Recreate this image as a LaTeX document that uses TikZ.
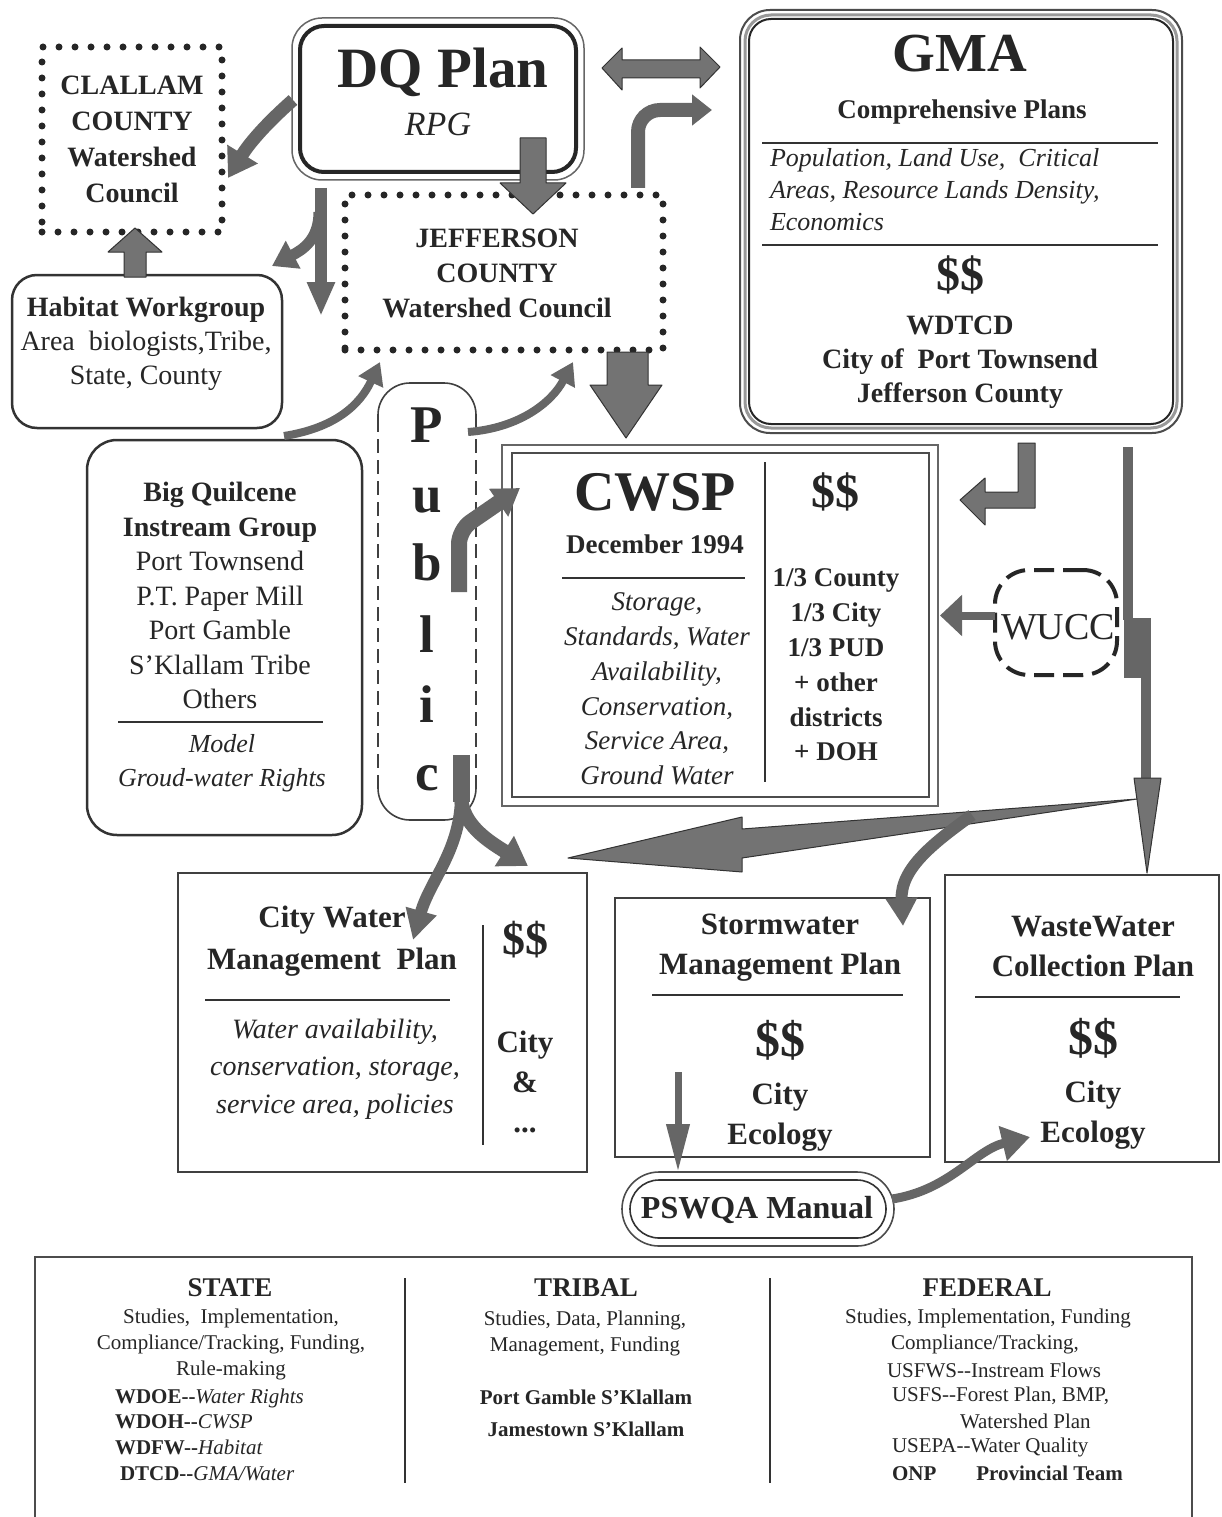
\documentclass[tikz,border=0pt]{standalone}
\usepackage{fontspec}
\setmainfont{Liberation Serif}
\usetikzlibrary{arrows.meta,calc}
\newcommand\fsz[2]{\fontsize{#1}{#2}\selectfont}
\begin{document}
\begin{tikzpicture}[x=1pt,y=-1pt,
  every node/.style={inner sep=0pt, outer sep=0pt},
  tx/.style={text=black!85},
  dotbox/.style={draw=black!85, line width=7pt, line cap=round, dash pattern=on 0pt off 16pt},
  rbox/.style={draw=black!80, line width=2.5pt, rounded corners=25pt},
  pbox/.style={draw=black!75, line width=2pt},
  rule/.style={draw=black!80, line width=2pt},
  barrow/.style={fill=black!55, draw=black!80, line width=1pt, line join=round},
  carrow/.style={draw=black!60, line width=#1},
  pubsolid/.style={draw=black!75, line width=1.6pt},
  pubdash/.style={draw=black!75, line width=1.6pt, dash pattern=on 14pt off 7pt},
]
\useasboundingbox (0,0) rectangle (1221,1517);
\fill[white] (0,0) rectangle (1221,1517);

% ---------- CLALLAM ----------
\node[dotbox, tx, minimum width=180pt, minimum height=185pt, font=\bfseries\fsz{28}{36}, align=center] (clallam) at (132,139.5) {CLALLAM\\COUNTY\\Watershed\\Council};

% ---------- DQ Plan ----------
\node[draw=black!60, line width=1.5pt, rounded corners=30pt, minimum width=292pt, minimum height=162pt] (dqouter) at (438,99) {};
\node[draw=black!85, line width=4pt, rounded corners=24pt, minimum width=276pt, minimum height=146pt] (dq) at (438,99) {};
\node[tx, font=\bfseries\fsz{57}{60}, anchor=base] (dqt) at (443,88) {DQ Plan};
\node[tx, font=\itshape\fsz{34}{36}, anchor=base] (rpg) at (438,136) {RPG};

% ---------- GMA ----------
\node[draw=black!70, line width=2pt, rounded corners=30pt, minimum width=442pt, minimum height=423pt] (gmaouter) at (961,221.5) {};
\node[draw=black!40, line width=3pt, rounded corners=26pt, minimum width=432pt, minimum height=413pt] (gmamid) at (961,221.5) {};
\node[draw=black!85, line width=2pt, rounded corners=22pt, minimum width=424pt, minimum height=405pt] (gma) at (961,221.5) {};
\node[tx, font=\bfseries\fsz{55}{60}, anchor=base] (gmat) at (960,72) {GMA};
\node[tx, font=\bfseries\fsz{27}{32}, anchor=base] (comp) at (962,119) {Comprehensive Plans};
\draw[rule] (762,143) -- (1158,143);
\node[tx, font=\itshape\fsz{26}{32}, align=left, anchor=north west] (gmai) at (770,148) {Population, Land Use,\ \ Critical\\Areas, Resource Lands Density,\\Economics};
\draw[rule] (762,245) -- (1158,245);
\node[tx, font=\bfseries\fsz{48}{50}, anchor=base] (gmad) at (960,290) {\$\$};
\node[tx, font=\bfseries\fsz{28}{34}, align=center] (gmab) at (960,362) {WDTCD\\City of\ \ Port Townsend\\Jefferson County};

% ---------- Jefferson ----------
\node[dotbox, minimum width=318pt, minimum height=155pt] (jeff) at (504,272.5) {};
\node[tx, font=\bfseries\fsz{28}{35}, align=center] (jefft) at (497,273) {JEFFERSON\\COUNTY\\Watershed Council};

% ---------- Habitat ----------
\node[rbox, minimum width=270pt, minimum height=153pt] (hab) at (147,351.5) {};
\node[tx, font=\fsz{28}{34}, align=center] (habt) at (146,344) {\textbf{Habitat Workgroup}\\Area\ \ biologists,Tribe,\\State, County};

% ---------- Big Quilcene ----------
\node[rbox, rounded corners=30pt, minimum width=275pt, minimum height=395pt] (bq) at (224.5,637.5) {};
\node[tx, font=\fsz{28}{34.5}, align=center] (bqt) at (220,595.5) {\textbf{Big Quilcene}\\\textbf{Instream Group}\\Port Townsend\\P.T. Paper Mill\\Port Gamble\\S'Klallam Tribe\\Others};
\draw[rule] (118,722) -- (323,722);
\node[tx, font=\itshape\fsz{26}{34}, align=center] (bqi) at (222,763) {Model\\Groud-water Rights};

% ---------- Public ----------
\node[minimum width=98pt, minimum height=437pt] (pub) at (427,601.5) {};
\draw[pubsolid, rounded corners=32pt] (378,418) -- (pub.north west) -- (pub.north east) -- (476,418);
\draw[pubsolid, rounded corners=32pt] (378,785) -- (pub.south west) -- (pub.south east) -- (476,785);
\draw[pubdash] (378,418) -- (378,785);
\draw[pubdash] (476,418) -- (476,785);
\foreach \ch/\yy [count=\i] in {P/442,u/512,b/580,l/652,i/722,c/790}
  \node[tx, font=\bfseries\fsz{53}{56}, anchor=base] (pl\i) at (427,\yy) {\ch};

% ---------- CWSP ----------
\node[draw=black!60, line width=2pt, minimum width=436pt, minimum height=361pt] (cwspo) at (720,625.5) {};
\node[draw=black!70, line width=2pt, minimum width=417pt, minimum height=344pt] (cwsp) at (720.5,625) {};
\draw[rule] (765,462) -- (765,782);
\node[tx, font=\bfseries\fsz{56}{60}, anchor=base] (cwspt) at (655,510) {CWSP};
\node[tx, font=\bfseries\fsz{27}{30}, anchor=base] (dec) at (655,553) {December 1994};
\draw[rule] (562,578) -- (745,578);
\node[tx, font=\itshape\fsz{27}{34.8}, align=center] (cwspi) at (657,689) {Storage,\\Standards, Water\\Availability,\\Conservation,\\Service Area,\\Ground Water};
\node[tx, font=\bfseries\fsz{48}{50}, anchor=base] (cwspd) at (835,507) {\$\$};
\node[tx, font=\bfseries\fsz{27}{34.8}, align=center] (cwspr) at (836,665) {1/3 County\\1/3 City\\1/3 PUD\\+ other\\districts\\+ DOH};

% ---------- WUCC ----------
\node[draw=black!85, line width=4pt, dash pattern=on 20pt off 9pt, rounded corners=34pt, minimum width=122pt, minimum height=105pt] (wucc) at (1056,622.5) {};
\node[tx, font=\fsz{38}{40}, anchor=base] (wucct) at (1058,639) {WUCC};

% ---------- City Water ----------
\node[pbox, minimum width=409pt, minimum height=299pt] (city) at (382.5,1022.5) {};
\draw[rule] (483,925) -- (483,1145);
\node[tx, font=\bfseries\fsz{31}{42}, align=center] (cityt) at (332,941) {City Water\\Management\ \ Plan};
\draw[rule] (205,1000) -- (450,1000);
\node[tx, font=\itshape\fsz{28}{37.5}, align=center] (cityi) at (335,1069) {Water availability,\\conservation, storage,\\service area, policies};
\node[tx, font=\bfseries\fsz{46}{50}] (cityd) at (525,940) {\$\$};
\node[tx, font=\bfseries\fsz{31}{40}, align=center] (cityr) at (525,1062) {City\\\&};
\node[tx, font=\bfseries\fsz{31}{34}] (citydots) at (525,1130) {...};

% ---------- Stormwater ----------
\node[pbox, minimum width=315pt, minimum height=259pt] (storm) at (772.5,1027.5) {};
\node[tx, font=\bfseries\fsz{31}{40}, align=center] (stormt) at (780,948) {Stormwater\\Management Plan};
\draw[rule] (652,995) -- (903,995);
\node[tx, font=\bfseries\fsz{50}{52}] (stormd) at (780,1040) {\$\$};
\node[tx, font=\bfseries\fsz{31}{40}, align=center] (stormr) at (780,1117) {City\\Ecology};

% ---------- WasteWater ----------
\node[pbox, minimum width=274pt, minimum height=287pt] (waste) at (1082,1018.5) {};
\node[tx, font=\bfseries\fsz{31}{40}, align=center] (wastet) at (1093,946) {WasteWater\\Collection Plan};
\draw[rule] (975,997) -- (1180,997);
\node[tx, font=\bfseries\fsz{50}{52}] (wasted) at (1093,1038) {\$\$};
\node[tx, font=\bfseries\fsz{31}{40}, align=center] (waster) at (1093,1115) {City\\Ecology};

% ---------- PSWQA ----------
\node[draw=black!70, line width=1.6pt, rounded corners=37pt, minimum width=272pt, minimum height=74pt] (pswqao) at (758,1209) {};
\node[draw=black!80, line width=1.6pt, rounded corners=29pt, minimum width=256pt, minimum height=58pt] (pswqa) at (758,1209) {};
\node[tx, font=\bfseries\fsz{32}{34}] (pswqat) at (757,1210) {PSWQA Manual};

% ---------- Bottom panel ----------
\coordinate (panelTL) at (35,1257);
\coordinate (panelTR) at (1192,1257);
\draw[draw=black!70, line width=2.5pt] (35,1530) -- (panelTL) -- (panelTR) -- (1192,1530);
\draw[rule] (405,1278) -- (405,1483);
\draw[rule] (770,1278) -- (770,1483);
\node[tx, font=\bfseries\fsz{27}{30}, anchor=base] (state) at (230,1296) {STATE};
\node[tx, font=\fsz{21}{26}, align=center] (statea) at (231,1344) {Studies,\ \ Implementation,\\Compliance/Tracking, Funding,\\Rule-making};
\node[tx, font=\fsz{21}{25.7}, align=left, anchor=west] (stateb) at (115,1434.5) {\textbf{WDOE-{}-}\textit{Water Rights}\\\textbf{WDOH-{}-}\textit{CWSP}\\\textbf{WDFW-{}-}\textit{Habitat}\\\hspace{5pt}\textbf{DTCD-{}-}\textit{GMA/Water}};
\node[tx, font=\bfseries\fsz{27}{30}, anchor=base] (tribal) at (586,1296) {TRIBAL};
\node[tx, font=\fsz{21}{26}, align=center] (tribala) at (585,1333) {Studies, Data, Planning,\\Management, Funding};
\node[tx, font=\bfseries\fsz{21}{26}] (tribalb) at (586,1397) {Port Gamble S'Klallam};
\node[tx, font=\bfseries\fsz{21}{26}] (tribalc) at (586,1429) {Jamestown S'Klallam};
\node[tx, font=\bfseries\fsz{27}{30}, anchor=base] (federal) at (987,1296) {FEDERAL};
\node[tx, font=\fsz{21}{26}] (fed1) at (988,1318) {Studies, Implementation, Funding};
\node[tx, font=\fsz{21}{26}] (fed2) at (985,1344) {Compliance/Tracking,};
\node[tx, font=\fsz{21}{26}, anchor=west] (fed3) at (887,1370) {USFWS-{}-Instream Flows};
\node[tx, font=\fsz{21}{26}, anchor=west] (fed4) at (892,1396) {USFS-{}-Forest Plan, BMP,};
\node[tx, font=\fsz{21}{26}, anchor=west] (fed5) at (960,1421) {Watershed Plan};
\node[tx, font=\fsz{21}{26}, anchor=west] (fed6) at (892,1447) {USEPA-{}-Water Quality};
\node[tx, font=\bfseries\fsz{21}{26}, anchor=west] (fed7) at (892,1473) {ONP\hspace{40pt}Provincial Team};

% ---------- Arrows ----------
% DQ <-> GMA
\filldraw[barrow] (602,68) -- (622,48) -- (622,60) -- (700,60) -- (700,47) -- (720,67) -- (700,88) -- (700,78) -- (622,78) -- (622,90) -- cycle;
% Jefferson -> GMA (bent)
\draw[carrow=14pt, -{Triangle[width=30pt,length=20pt]}, rounded corners=22pt] (638,188) -- (638,110) -- (712,110);
% DQ -> Jefferson
\filldraw[barrow] (520,138) -- (546,138) -- (546,183) -- (566,183) -- (533,214) -- (500,183) -- (520,183) -- cycle;
% DQ -> Clallam
\draw[carrow=13pt, -{Triangle[width=34pt,length=28pt]}] (293,100) .. controls (268,122) and (250,142) .. (228,178);
% split arrow below DQ
\draw[carrow=12pt, -{Triangle[width=26pt,length=34pt]}] (321,188) -- (321,316);
\draw[carrow=11pt, -{Triangle[width=30pt,length=24pt]}] (319,212) .. controls (319,240) and (302,250) .. (272,266);
% Habitat -> Clallam
\filldraw[barrow] (124,277) -- (124,252) -- (108,252) -- (135,228) -- (162,252) -- (146,252) -- (146,277) -- cycle;
% Big Quilcene -> Jefferson
\draw[carrow=8pt, -{Triangle[width=26pt,length=22pt]}] (284,436) .. controls (335,428) and (360,405) .. (380,362);
% Public -> Jefferson
\draw[carrow=8pt, -{Triangle[width=26pt,length=22pt]}] (468,432) .. controls (520,428) and (552,402) .. (573,362);
% Jefferson -> CWSP
\filldraw[barrow] (607,352) -- (648,352) -- (648,385) -- (662,385) -- (626,438) -- (590,385) -- (607,385) -- cycle;
% Public -> CWSP
\draw[carrow=16pt, -{Triangle[width=32pt,length=26pt]}, rounded corners=14pt] (459,592) -- (459,530) -- (520,488);
% GMA -> CWSP (elbow)
\filldraw[barrow] (1018,443) -- (1035,443) -- (1035,508) -- (985,508) -- (985,525) -- (960,500) -- (985,478) -- (985,492) -- (1018,492) -- cycle;
% GMA -> WasteWater long connector
\fill[black!60] (1123,447) rectangle (1133,620);
\fill[black!60] (1124,618) rectangle (1151,678);
\fill[black!60] (1141,676) rectangle (1151,780);
\filldraw[barrow] (1134,778) -- (1161,778) -- (1147,873) -- cycle;
% long wedge to City Water
\filldraw[barrow] (568,858) -- (742,817) -- (742,829) -- (1137,799) -- (742,858) -- (742,872) -- cycle;
% branch to Stormwater
\draw[carrow=12pt, -{Triangle[width=30pt,length=28pt]}] (972,815) .. controls (935,842) and (900,868) .. (903,926);
% Public split
\draw[carrow=17pt] (461,755) -- (461,802);
\draw[carrow=14pt, -{Triangle[width=34pt,length=28pt]}] (461,795) .. controls (461,825) and (490,842) .. (528,866);
\draw[carrow=12pt, -{Triangle[width=30pt,length=30pt]}] (461,795) .. controls (461,850) and (430,880) .. (413,940);
% WUCC -> CWSP
\draw[carrow=8pt, -{Triangle[width=40pt,length=22pt]}] (wucc.west) ++(0,-7) -- (940,615.5);
% Stormwater -> PSWQA
\draw[carrow=7pt, -{Triangle[width=22pt,length=48pt]}] (678,1072) -- (678,1172);
% PSWQA -> WasteWater
\draw[carrow=9pt, -{Triangle[width=34pt,length=28pt]}] (pswqao.east) ++(-2,-10) .. controls (950,1190) and (975,1150) .. (1030,1137);
\end{tikzpicture}
\end{document}
